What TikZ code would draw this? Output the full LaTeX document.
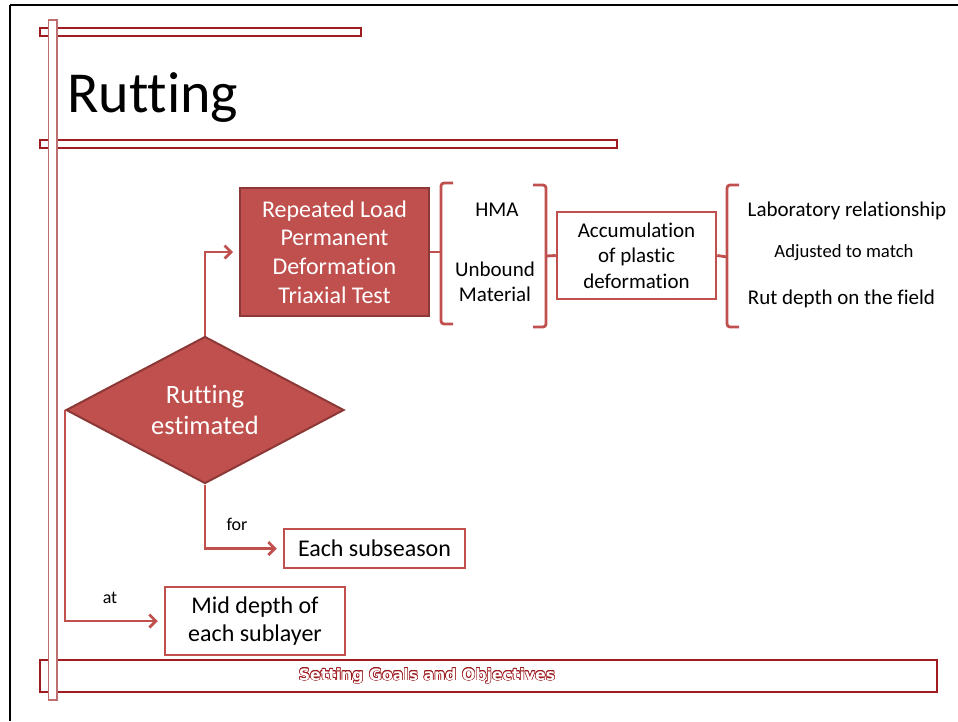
\documentclass[tikz,border=0pt]{standalone}
\usepackage{fontspec}
\setmainfont[Ligatures=NoCommon]{Carlito}
\newfontfamily\footfont{DejaVu Sans}
\usepackage[copies]{contour}
\usetikzlibrary{shapes.geometric,arrows.meta}
\definecolor{accent}{HTML}{C0504D}
\definecolor{accentdark}{HTML}{8C3836}
\definecolor{rule}{RGB}{158,28,32}
\definecolor{rulelight}{RGB}{190,110,110}

\begin{document}
\begin{tikzpicture}[x=1pt,y=-1pt,
  filledbox/.style={draw=accentdark, line width=2pt, fill=accent, text=white, align=center, inner sep=0pt},
  outlinebox/.style={draw=accent, line width=2.5pt, fill=white, align=center, inner sep=0pt},
  conn/.style={draw=accent, line width=2.8pt, -{Straight Barb[length=6.5pt,width=13pt]}, shorten >=6pt},
  bracket/.style={draw=accent, line width=2.8pt, rounded corners=3pt},
  plain/.style={inner sep=0pt, align=center},
  rulebar/.style={draw=rule, line width=1.3pt, fill=white}
]
\useasboundingbox (0,0) rectangle (958,721);

% slide frame
\draw[line width=2.2pt] (10,5) -- (958,5);
\draw[line width=2.2pt] (10,5) -- (10,721);

% decorative rule bars
\draw[rulebar] (40,28) rectangle (361,36);
\draw[rulebar] (40,140) rectangle (617,148);
\draw[rulebar] (40,660) rectangle (937,692);
\draw[rulebar, draw=rulelight] (48.5,20) rectangle (57,700);

% title
\node[plain, anchor=base west, font=\fontsize{58}{62}\selectfont] (title) at (67,112) {Rutting};

% footer
\node[plain, font=\footfont\bfseries\fontsize{15.7}{18}\selectfont] (foot) at (427,676)
  {\contourlength{0.55pt}\textcolor{white}{\contour{rule}{Setting Goals and Objectives}}};

% main nodes
\node[filledbox, minimum width=189pt, minimum height=128pt, font=\fontsize{24}{28.6}\selectfont] (test) at (334.5,252)
  {Repeated Load\\Permanent\\Deformation\\Triaxial Test};
\node[diamond, aspect=1.9, draw=accentdark, line width=2pt, fill=accent, text=white, align=center, inner sep=0pt,
  minimum width=278pt, minimum height=147pt, font=\fontsize{26.5}{31.6}\selectfont] (est) at (205,410)
  {Rutting\\estimated};
\node[outlinebox, minimum width=181pt, minimum height=39pt, font=\fontsize{24}{28.7}\selectfont] (sub) at (374.5,548.5)
  {Each subseason};
\node[outlinebox, minimum width=180pt, minimum height=68pt, font=\fontsize{24}{28.7}\selectfont] (mid) at (255,621)
  {Mid depth of\\each sublayer};

\node[plain, font=\fontsize{21}{25}\selectfont] (hma) at (497,209.5) {HMA};
\node[plain, font=\fontsize{21}{25}\selectfont] (unb) at (495,282) {Unbound\\Material};
\node[outlinebox, minimum width=159pt, minimum height=87pt, font=\fontsize{21}{25.3}\selectfont] (acc) at (636.5,255.5)
  {Accumulation\\of plastic\\deformation};

\node[plain, anchor=base, font=\fontsize{21}{25}\selectfont] (lab) at (847,216.7) {Laboratory relationship};
\node[plain, anchor=base, font=\fontsize{18.7}{22}\selectfont] (adj) at (844,257.7) {Adjusted to match};
\node[plain, anchor=base, font=\fontsize{21}{25}\selectfont] (rut) at (841.5,304) {Rut depth on the field};

% brackets
\coordinate (b1m) at (441,252);
\coordinate (b2m) at (546,256);
\coordinate (b3m) at (727,257);
\draw[bracket] (453,183) -- (441,183) -- (441,324) -- (453,324);
\draw[bracket] (test.east) -- (b1m);
\draw[bracket] (533,185) -- (546,185) -- (546,327) -- (533,327);
\draw[bracket] (b2m) -- (acc.west);
\draw[bracket] (739,185) -- (727,185) -- (727,327) -- (739,327);
\draw[bracket] (acc.east) -- (b3m);

% connectors
\draw[conn] (est.north) |- (test.west);
\draw[conn] (est.south) |- (sub.west);
\draw[conn] (est.west) |- (mid.west);

% connector labels
\node[plain, anchor=base, font=\fontsize{18}{20}\selectfont] (for) at (237,530.7) {for};
\node[plain, anchor=base, font=\fontsize{18}{20}\selectfont] (at) at (110,603.3) {at};
\end{tikzpicture}
\end{document}
